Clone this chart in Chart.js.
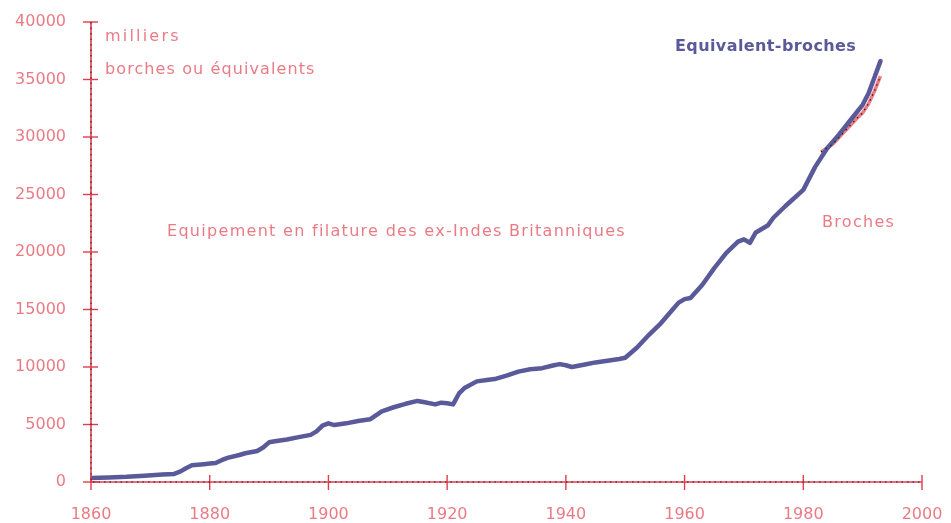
<!DOCTYPE html>
<html>
<head>
<meta charset="utf-8">
<script src="https://cdn.jsdelivr.net/npm/chart.js@4/dist/chart.umd.min.js"></script>
<style>
  html, body { margin: 0; padding: 0; background: #fff; }
  #wrap { width: 951px; height: 523px; position: relative; }
</style>
</head>
<body>
<div id="wrap"><canvas id="spindles"></canvas></div>
<script>
// equipment en filature, milliers de broches (ou equivalents)
const equivYears = [1860, 1863, 1866, 1869, 1872, 1874, 1875, 1876, 1877, 1879, 1880, 1881, 1882, 1883, 1885, 1886, 1888, 1889, 1890, 1891, 1893, 1895, 1897, 1898, 1899, 1900, 1901, 1903, 1905, 1907, 1908, 1909, 1911, 1913, 1915, 1916, 1918, 1919, 1920, 1921, 1922, 1923, 1925, 1927, 1928, 1930, 1932, 1934, 1936, 1938, 1939, 1940, 1941, 1943, 1945, 1947, 1949, 1950, 1952, 1954, 1956, 1958, 1959, 1960, 1961, 1963, 1965, 1967, 1968, 1969, 1970, 1971, 1972, 1974, 1975, 1977, 1980, 1982, 1984, 1986, 1988, 1990, 1991, 1992, 1993];
const equivValues = [350, 400, 450, 550, 650, 700, 900, 1200, 1450, 1550, 1600, 1650, 1900, 2100, 2350, 2500, 2700, 3000, 3450, 3550, 3700, 3900, 4100, 4400, 4900, 5100, 4950, 5100, 5300, 5450, 5800, 6150, 6500, 6800, 7050, 6950, 6750, 6900, 6850, 6750, 7700, 8200, 8750, 8900, 8950, 9250, 9600, 9800, 9900, 10150, 10250, 10150, 10000, 10200, 10400, 10550, 10700, 10800, 11700, 12800, 13800, 15000, 15600, 15900, 16000, 17150, 18600, 19900, 20400, 20900, 21100, 20800, 21700, 22300, 23000, 24000, 25400, 27400, 29000, 30200, 31500, 32800, 33800, 35200, 36600];

const brochesYears = [1983, 1985, 1987, 1989, 1990, 1991, 1992, 1993];
const brochesValues = [28700, 29400, 30500, 31600, 32100, 32900, 34000, 35300];

const xMin = 1860, xMax = 2000, xStep = 20;
const yMin = 0, yMax = 40000, yStep = 5000;

const RED = '#e23c4c';
const PINK = '#ea7b85';
const PURPLE = '#5a5a9a';
const FONT = '"DejaVu Sans", Verdana, sans-serif';

function pts(xs, ys) {
    return xs.map((x, i) => ({ x: x, y: ys[i] }));
}

// axes drawn like the old plotter output: red line, black dots, crossing ticks
const axisDecor = {
    id: 'axisDecor',
    afterDatasetsDraw(chart) {
        const { ctx, chartArea, scales } = chart;
        const x0 = chartArea.left, y0 = chartArea.bottom;
        ctx.save();
        ctx.strokeStyle = RED;
        ctx.lineWidth = 1.6;
        ctx.beginPath();
        ctx.moveTo(x0, chartArea.top);
        ctx.lineTo(x0, y0);
        ctx.lineTo(chartArea.right, y0);
        ctx.stroke();

        // ticks crossing the axes
        ctx.lineWidth = 1.4;
        scales.y.ticks.forEach(t => {
            const py = scales.y.getPixelForValue(t.value);
            ctx.beginPath();
            ctx.moveTo(x0 - 8, py);
            ctx.lineTo(x0 + 7, py);
            ctx.stroke();
        });
        scales.x.ticks.forEach(t => {
            const px = scales.x.getPixelForValue(t.value);
            ctx.beginPath();
            ctx.moveTo(px, y0 - 7);
            ctx.lineTo(px, y0 + 8);
            ctx.stroke();
        });

        // black dotted overlay
        ctx.strokeStyle = '#222';
        ctx.lineWidth = 1;
        ctx.setLineDash([1.5, 4]);
        ctx.beginPath();
        ctx.moveTo(x0, chartArea.top);
        ctx.lineTo(x0, y0);
        ctx.lineTo(chartArea.right, y0);
        ctx.stroke();
        ctx.restore();
    }
};

function spaced(ctx, text, x, y, ls) {
    ctx.letterSpacing = ls + 'px';
    ctx.fillText(text, x, y);
}

const labels = {
    id: 'labels',
    afterDraw(chart) {
        const ctx = chart.ctx;
        ctx.save();
        ctx.textBaseline = 'middle';
        ctx.textAlign = 'left';
        ctx.fillStyle = PINK;
        ctx.font = '16px ' + FONT;
        spaced(ctx, 'milliers', 105, 37, 2.2);
        spaced(ctx, 'borches ou équivalents', 105, 70, 1.1);
        spaced(ctx, 'Equipement en filature des ex-Indes Britanniques', 167, 232, 1.3);
        spaced(ctx, 'Broches', 822, 223, 1.3);
        ctx.fillStyle = PURPLE;
        ctx.font = 'bold 16px ' + FONT;
        spaced(ctx, 'Equivalent-broches', 675, 47, 0.4);
        ctx.restore();
    }
};

// keep the plot box fixed, labels may overhang
function noPad(s) {
    s.paddingTop = 0;
    s.paddingBottom = 0;
    s.paddingLeft = 0;
    s.paddingRight = 0;
}

function initChart() {
    const ctx = document.getElementById('spindles').getContext('2d');
    new Chart(ctx, {
        type: 'line',
        data: {
            datasets: [
                {
                    label: 'Broches (dots)',
                    data: pts(brochesYears, brochesValues),
                    borderColor: '#222',
                    borderWidth: 1.2,
                    borderDash: [1.5, 4],
                    pointRadius: 0,
                    order: 0
                },
                {
                    label: 'Equivalent-broches',
                    data: pts(equivYears, equivValues),
                    borderColor: PURPLE,
                    borderWidth: 4.5,
                    borderJoinStyle: 'round',
                    borderCapStyle: 'round',
                    pointRadius: 0,
                    order: 1
                },
                {
                    label: 'Broches',
                    data: pts(brochesYears, brochesValues),
                    borderColor: '#ee7c82',
                    borderWidth: 3.5,
                    pointRadius: 0,
                    order: 2
                }
            ]
        },
        options: {
            responsive: true,
            maintainAspectRatio: false,
            animation: false,
            layout: { padding: { top: 22, right: 29, left: 0, bottom: 0 } },
            plugins: {
                legend: { display: false },
                tooltip: { enabled: false }
            },
            scales: {
                x: {
                    type: 'linear',
                    min: xMin,
                    max: xMax,
                    grid: { display: false, drawTicks: false },
                    border: { display: false },
                    afterFit: s => { s.height = 41; noPad(s); },
                    ticks: {
                        stepSize: xStep,
                        padding: 23,
                        color: PINK,
                        font: { family: FONT, size: 16 },
                        callback: v => String(v)
                    }
                },
                y: {
                    min: yMin,
                    max: yMax,
                    grid: { display: false, drawTicks: false },
                    border: { display: false },
                    afterFit: s => { s.width = 91; noPad(s); },
                    ticks: {
                        stepSize: yStep,
                        padding: 25,
                        color: PINK,
                        font: { family: FONT, size: 16 },
                        callback: v => String(v)
                    }
                }
            }
        },
        plugins: [axisDecor, labels]
    });
}

window.onload = initChart;
</script>
</body>
</html>
